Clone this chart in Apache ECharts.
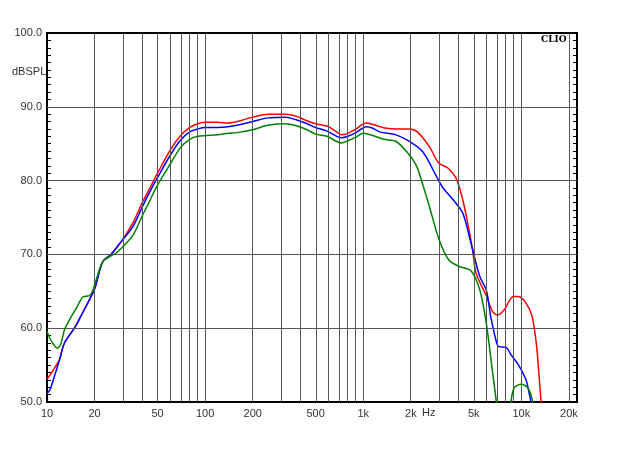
<!DOCTYPE html>
<html><head><meta charset="utf-8">
<script src="https://cdn.jsdelivr.net/npm/echarts@6/dist/echarts.min.js"></script>
<style>html,body{margin:0;padding:0;background:#fff}#c{width:624px;height:468px}</style>
</head><body><div id="c"></div>
<script>
// Frequencies (Hz) and levels (dB SPL)
const redFreq = [10,11,12,12.9,15,17,18.5,20,22.5,25.4,29.4,35,40,45,50,60,70,80,90,100,120,140,160,200,250,325,380,430,500,590,680,730,800,900,1045,1150,1400,1700,1950,2200,2620,3000,3430,3870,4260,4650,4900,5150,5500,6000,6600,7100,7800,8900,9600,10700,11700,12500,13000,13300,13800];
const redDb   = [53.1,54.4,55.8,58.0,60.1,62.3,63.8,65.3,69.0,70.0,71.7,74.3,77.0,79.1,81.0,84.1,86.1,87.2,87.7,87.9,87.9,87.8,88.0,88.6,89.0,89.0,88.7,88.2,87.7,87.4,86.6,86.2,86.4,87.0,87.8,87.6,87.1,87.0,87.0,86.6,84.6,82.4,81.7,80.3,77.4,73.5,70.8,67.6,66.1,64.4,62.2,61.8,62.5,64.3,64.3,63.4,61.6,57.5,53.0,50.3,46.0];

const blueFreq = [10,10.5,11.1,12,12.9,15,17,18.5,20,22.5,25.4,29.4,35,40,45,50,60,70,80,90,100,120,140,160,200,250,325,380,430,500,590,680,730,800,900,1045,1150,1270,1615,1960,2380,2950,3200,3700,4260,4870,5460,6000,6400,6980,7200,8000,8600,9600,10700,11200,11500,12000];
const blueDb   = [51.1,51.8,53.4,55.7,58.0,60.1,62.3,63.8,65.3,69.0,70.0,71.7,73.8,76.4,78.6,80.4,83.4,85.5,86.6,87.0,87.2,87.2,87.3,87.5,88.0,88.5,88.6,88.2,87.8,87.2,86.7,86.0,85.8,86.0,86.5,87.3,87.1,86.6,86.2,85.3,83.9,80.3,79.0,77.4,75.6,71.0,67.0,65.2,61.6,58.0,57.5,57.4,56.4,55.0,53.0,51.2,50.0,46.0];

const greenFreq = [10,10.5,11,11.6,12.2,12.9,14,15.5,16.8,18.5,19.4,20.5,22.5,25.4,27,29.4,35,40,45,50,60,70,80,90,100,120,140,160,200,250,325,380,430,500,590,680,730,800,900,1000,1150,1350,1615,1920,2160,2300,2620,3020,3490,4020,4800,5460,6000,6400,6800,6950,7300,8100,8600,9000,10000,11000,11700,12200];
const greenDb   = [59.6,58.5,57.8,57.3,57.8,59.8,61.3,62.9,64.2,64.4,65.0,66.6,69.0,69.8,70.1,70.8,72.6,75.2,77.4,79.4,82.2,84.5,85.6,86.0,86.1,86.2,86.4,86.5,86.9,87.5,87.7,87.4,87.0,86.3,86.0,85.3,85.1,85.4,85.9,86.4,86.1,85.6,85.3,83.7,82.1,80.5,76.5,72.0,69.2,68.4,67.8,65.2,60.7,56.1,51.6,50.0,45.0,45.0,50.0,51.9,52.4,51.9,50.3,46.0];

const gridFreqs = [20,30,40,50,60,70,80,90,100,200,300,400,500,600,700,800,900,1000,2000,3000,4000,5000,6000,7000,8000,9000,10000,20000];
const gridDb = [60,70,80,90];
const xTickFreqs = [10,20,50,100,200,500,1000,2000,5000,10000,20000];
const xTickLabels = ['10','20','50','100','200','500','1k','2k','5k','10k','20k'];

const FONT = '"Liberation Sans", Arial, sans-serif';
const toXY = (fs, ds) => fs.map((f, i) => [Math.log10(f), ds[i]]);

const chart = echarts.init(document.getElementById('c'), null, {renderer: 'canvas'});
const yAxisCommon = {
  type: 'value', min: 50, max: 100, interval: 10,
  axisLine: {show: false},
  axisTick: {show: true, inside: true, length: 4, lineStyle: {color: '#000', width: 1}},
  minorTick: {show: true, splitNumber: 10, length: 4, lineStyle: {color: '#000', width: 1}},
  splitLine: {show: false}
};
chart.setOption({
  animation: false,
  backgroundColor: '#fff',
  grid: {left: 47, right: 47, top: 33, bottom: 66, show: true, borderColor: '#000', borderWidth: 2, backgroundColor: 'transparent'},
  xAxis: {
    type: 'value', min: 1, max: 4.352,
    axisLine: {show: false}, axisTick: {show: false}, splitLine: {show: false},
    axisLabel: {
      customValues: xTickFreqs.map(f => Math.log10(f)),
      margin: 6, fontFamily: FONT, fontSize: 11, color: '#333',
      formatter: v => { const i = xTickFreqs.findIndex(f => Math.abs(Math.log10(f) - v) < 1e-6); return i >= 0 ? xTickLabels[i] : ''; }
    }
  },
  yAxis: [
    Object.assign({}, yAxisCommon, {position: 'left',
      axisLabel: {show: true, margin: 5, fontFamily: FONT, fontSize: 11, color: '#333', formatter: v => v.toFixed(1)}}),
    Object.assign({}, yAxisCommon, {position: 'right', axisLabel: {show: false}})
  ],
  graphic: [
    {type: 'text', left: 12, top: 66, style: {text: 'dBSPL', font: '11px ' + FONT, fill: '#333'}},
    {type: 'text', left: 422, top: 407, style: {text: 'Hz', font: '11px ' + FONT, fill: '#333'}},
    {type: 'text', left: 541, top: 35, style: {text: 'CLIO', font: 'bold 9px "DejaVu Serif", "Liberation Serif", serif', fill: '#000'}}
  ],
  series: [
    {type: 'line', data: [], z: 1, silent: true,
      markLine: {silent: true, symbol: ['none', 'none'], animation: false, label: {show: false},
        lineStyle: {color: '#555', width: 1, type: 'solid'},
        data: gridFreqs.map(f => ({xAxis: Math.log10(f)})).concat(gridDb.map(v => ({yAxis: v})))}},
    {type: 'line', data: toXY(redFreq, redDb), showSymbol: false, smooth: 0.3, clip: true, z: 3,
      lineStyle: {color: '#ff0000', width: 1.5}},
    {type: 'line', data: toXY(blueFreq, blueDb), showSymbol: false, smooth: 0.3, clip: true, z: 4,
      lineStyle: {color: '#0000ff', width: 1.5}},
    {type: 'line', data: toXY(greenFreq, greenDb), showSymbol: false, smooth: 0.3, clip: true, z: 5,
      lineStyle: {color: '#008000', width: 1.5}}
  ]
});
</script></body></html>
